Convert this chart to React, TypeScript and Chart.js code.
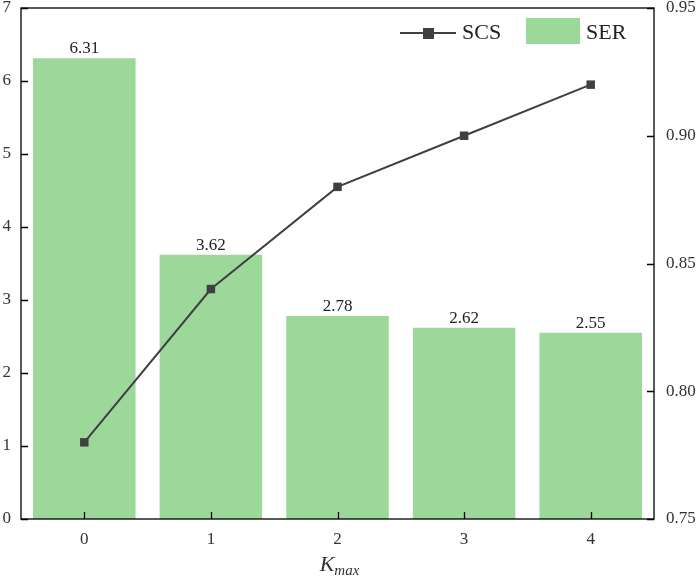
import React, { useEffect, useRef } from "react";
import { Chart, registerables } from "chart.js";

Chart.register(...registerables);

const categories = ["0", "1", "2", "3", "4"];
const serValues = [6.31, 3.62, 2.78, 2.62, 2.55];
const scsValues = [0.78, 0.84, 0.88, 0.9, 0.92];
const leftTicks = [0, 1, 2, 3, 4, 5, 6, 7];
const rightTicks = [0.75, 0.8, 0.85, 0.9, 0.95];

const FONT = "'Liberation Serif', 'DejaVu Serif', serif";
const BAR_COLOR = "#9dd89b";
const LINE_COLOR = "#404040";

const overlayPlugin = {
  id: "overlay",
  afterDraw(chart: any) {
    const ctx = chart.ctx;
    const area = chart.chartArea;
    const xs = chart.scales.x;
    const yl = chart.scales.y;
    const yr = chart.scales.y1;
    ctx.save();
    // frame
    ctx.strokeStyle = "#000";
    ctx.lineWidth = 1.3;
    ctx.strokeRect(area.left, area.top, area.right - area.left, area.bottom - area.top);
    // inward ticks
    const tl = 7;
    ctx.beginPath();
    leftTicks.forEach((v) => {
      const y = Math.round(yl.getPixelForValue(v)) + 0.5;
      ctx.moveTo(area.left, y);
      ctx.lineTo(area.left + tl, y);
    });
    rightTicks.forEach((v) => {
      const y = Math.round(yr.getPixelForValue(v)) + 0.5;
      ctx.moveTo(area.right, y);
      ctx.lineTo(area.right - tl, y);
    });
    categories.forEach((_, i) => {
      const x = Math.round(xs.getPixelForValue(i)) + 0.5;
      ctx.moveTo(x, area.bottom);
      ctx.lineTo(x, area.bottom - tl);
    });
    ctx.stroke();

    // bar value labels
    const meta = chart.getDatasetMeta(1);
    ctx.fillStyle = "#222";
    ctx.font = `17px ${FONT}`;
    ctx.textAlign = "center";
    ctx.textBaseline = "bottom";
    meta.data.forEach((bar: any, i: number) => {
      ctx.fillText(serValues[i].toFixed(2), bar.x, bar.y - 1);
    });

    // axis title K_max
    const cx = (area.left + area.right) / 2;
    ctx.textAlign = "left";
    ctx.textBaseline = "alphabetic";
    ctx.font = `italic 22px ${FONT}`;
    const kW = ctx.measureText("K").width;
    ctx.font = `italic 15px ${FONT}`;
    const mW = ctx.measureText("max").width;
    const startX = cx - (kW + mW) / 2 + 2;
    ctx.fillStyle = "#333";
    ctx.font = `italic 22px ${FONT}`;
    ctx.fillText("K", startX, 571);
    ctx.font = `italic 15px ${FONT}`;
    ctx.fillText("max", startX + kW, 575);

    // legend
    ctx.strokeStyle = LINE_COLOR;
    ctx.lineWidth = 2;
    ctx.beginPath();
    ctx.moveTo(400, 33);
    ctx.lineTo(456, 33);
    ctx.stroke();
    ctx.fillStyle = LINE_COLOR;
    ctx.fillRect(423, 28, 11, 11);
    ctx.fillStyle = "#222";
    ctx.font = `22px ${FONT}`;
    ctx.textBaseline = "middle";
    ctx.fillText("SCS", 462, 33);
    ctx.fillStyle = BAR_COLOR;
    ctx.fillRect(526, 18, 54, 26);
    ctx.fillStyle = "#222";
    ctx.fillText("SER", 586, 33);
    ctx.restore();
  },
};

export default function App() {
  const ref = useRef<HTMLCanvasElement>(null);
  useEffect(() => {
    if (!ref.current) return;
    const chart = new Chart(ref.current, {
      type: "bar",
      data: {
        labels: categories,
        datasets: [
          {
            type: "line",
            label: "SCS",
            data: scsValues,
            yAxisID: "y1",
            borderColor: LINE_COLOR,
            backgroundColor: LINE_COLOR,
            borderWidth: 2,
            pointStyle: "rect",
            pointRadius: 6,
            pointBorderWidth: 0,
            order: 0,
          } as any,
          {
            type: "bar",
            label: "SER",
            data: serValues,
            yAxisID: "y",
            backgroundColor: BAR_COLOR,
            categoryPercentage: 0.81,
            barPercentage: 1,
            order: 1,
          },
        ],
      },
      options: {
        animation: false,
        responsive: false,
        devicePixelRatio: 1,
        layout: { padding: { top: 8, left: 0, right: 0, bottom: 0 } },
        plugins: { legend: { display: false }, tooltip: { enabled: false } },
        scales: {
          x: {
            grid: { display: false, drawTicks: false },
            border: { display: false },
            ticks: { color: "#333", font: { family: FONT, size: 17 }, padding: 10 },
            afterFit: (s: any) => {
              s.height = 59;
              s.paddingLeft = 0;
              s.paddingRight = 0;
            },
          },
          y: {
            position: "left",
            min: 0,
            max: 7,
            grid: { display: false, drawTicks: false },
            border: { display: false },
            ticks: { stepSize: 1, color: "#333", font: { family: FONT, size: 17 }, padding: 10 },
            afterFit: (s: any) => {
              s.width = 21;
              s.paddingTop = 0;
              s.paddingBottom = 0;
            },
          },
          y1: {
            position: "right",
            min: 0.75,
            max: 0.95,
            grid: { display: false, drawTicks: false },
            border: { display: false },
            ticks: {
              stepSize: 0.05,
              color: "#333",
              font: { family: FONT, size: 17 },
              padding: 12,
              callback: (v: any) => Number(v).toFixed(2),
            },
            afterFit: (s: any) => {
              s.width = 46;
              s.paddingTop = 0;
              s.paddingBottom = 0;
            },
          },
        },
      },
      plugins: [overlayPlugin],
    });
    return () => chart.destroy();
  }, []);
  return (
    <div style={{ position: "absolute", left: 0, top: 0, width: 700, height: 578, background: "#fff" }}>
      <canvas ref={ref} width={700} height={578} style={{ width: 700, height: 578 }} />
    </div>
  );
}
